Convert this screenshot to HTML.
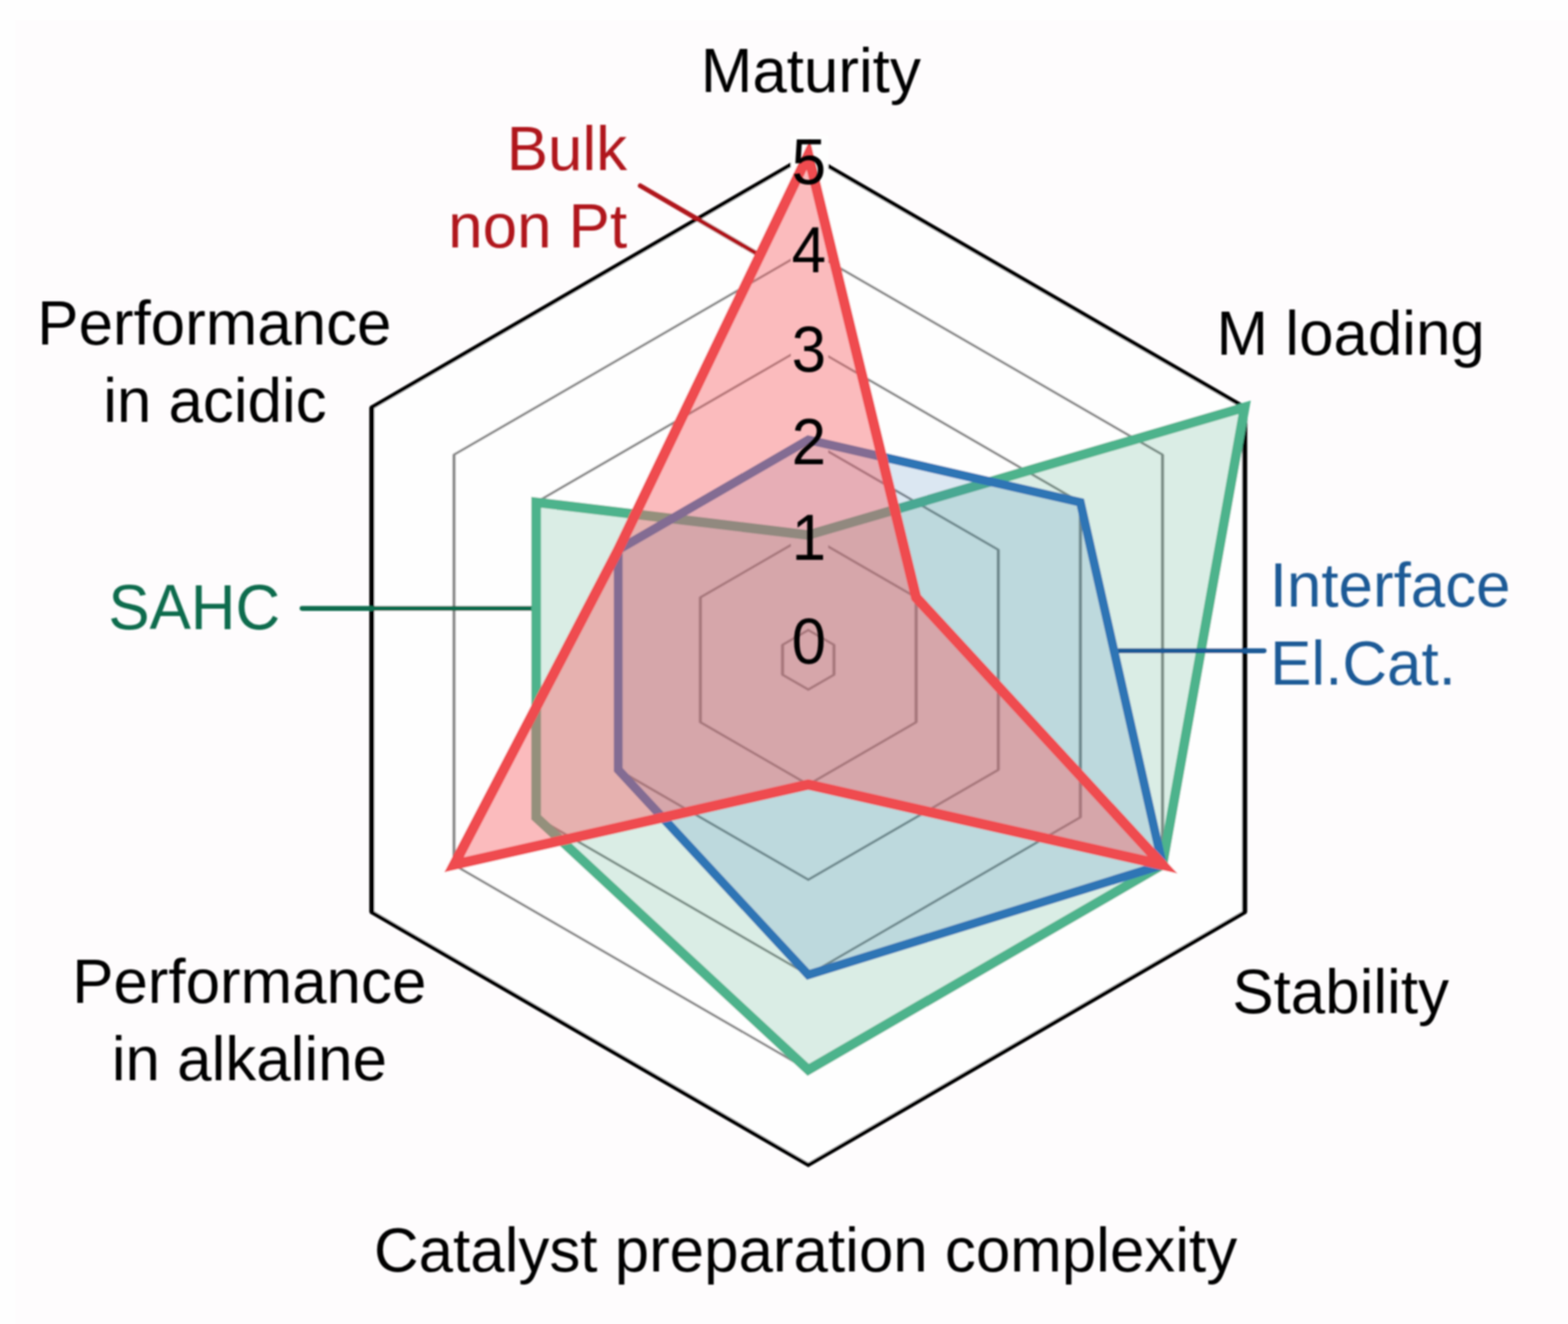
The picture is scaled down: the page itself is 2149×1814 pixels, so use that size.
<!DOCTYPE html>
<html lang="en"><head><meta charset="utf-8"><title>Radar chart</title>
<style>
html,body{margin:0;padding:0;background:#fefefe;}
body{width:2149px;height:1814px;overflow:hidden;}
svg{display:block;}
text{font-family:"Liberation Sans",sans-serif;font-size:84.8px;}
.mid{text-anchor:middle;}
.end{text-anchor:end;}
</style></head><body>
<svg width="2149" height="1814" viewBox="0 0 2149 1814">
<defs>
<filter id="soft" x="0" y="0" width="2149" height="1814" filterUnits="userSpaceOnUse"><feGaussianBlur stdDeviation="1.3"/></filter>
<filter id="tsoft" x="0" y="0" width="2149" height="1814" filterUnits="userSpaceOnUse"><feGaussianBlur stdDeviation="1.0"/></filter>
</defs>
<rect x="0" y="0" width="2149" height="1814" fill="#fefefe"/>
<rect x="21" y="28" width="2128" height="1786" fill="#fefcfd"/>
<g filter="url(#soft)">
<polygon points="1107.8,211.9 1705.9,558.0 1705.9,1250.0 1107.8,1596.1 509.6,1250.0 509.6,558.0" fill="#fefefe"/>
<g fill="none" stroke="#8a8a8a" stroke-width="3.4">
<polygon points="1107.8,863.2 1143.0,883.6 1143.0,924.4 1107.8,944.8 1072.5,924.4 1072.5,883.6"/>
<line x1="1143.0" y1="883.6" x2="1143.0" y2="924.4" stroke-width="4.4"/>
<line x1="1072.5" y1="924.4" x2="1072.5" y2="883.6" stroke-width="4.4"/>
<polygon points="1107.8,733.0 1255.6,818.5 1255.6,989.5 1107.8,1075.0 959.9,989.5 959.9,818.5"/>
<line x1="1255.6" y1="818.5" x2="1255.6" y2="989.5" stroke-width="4.4"/>
<line x1="959.9" y1="989.5" x2="959.9" y2="818.5" stroke-width="4.4"/>
<polygon points="1107.8,602.7 1368.2,753.3 1368.2,1054.7 1107.8,1205.3 847.3,1054.7 847.3,753.3"/>
<line x1="1368.2" y1="753.3" x2="1368.2" y2="1054.7" stroke-width="4.4"/>
<line x1="847.3" y1="1054.7" x2="847.3" y2="753.3" stroke-width="4.4"/>
<polygon points="1107.8,472.4 1480.7,688.2 1480.7,1119.8 1107.8,1335.6 734.8,1119.8 734.8,688.2"/>
<line x1="1480.7" y1="688.2" x2="1480.7" y2="1119.8" stroke-width="4.4"/>
<line x1="734.8" y1="1119.8" x2="734.8" y2="688.2" stroke-width="4.4"/>
<polygon points="1107.8,342.2 1593.3,623.1 1593.3,1184.9 1107.8,1465.8 622.2,1184.9 622.2,623.1"/>
<line x1="1593.3" y1="623.1" x2="1593.3" y2="1184.9" stroke-width="4.4"/>
<line x1="622.2" y1="1184.9" x2="622.2" y2="623.1" stroke-width="4.4"/>
</g>
<polygon points="1107.8,211.9 1705.9,558.0 1705.9,1250.0 1107.8,1596.1 509.6,1250.0 509.6,558.0" fill="none" stroke="#000000" stroke-width="5.6" stroke-linejoin="miter"/>
<line x1="1705.9" y1="558.0" x2="1705.9" y2="1250.0" stroke="#000000" stroke-width="6.9"/>
<line x1="509.6" y1="1250.0" x2="509.6" y2="558.0" stroke="#000000" stroke-width="6.9"/>
<rect x="1084" y="185.6" width="51" height="70" fill="#fefefe"/>
<rect x="1084" y="306.6" width="51" height="70" fill="#fefefe"/>
<rect x="1084" y="443.0" width="51" height="70" fill="#fefefe"/>
<rect x="1084" y="569.5" width="51" height="70" fill="#fefefe"/>
<rect x="1084" y="701.0" width="51" height="70" fill="#fefefe"/>
<polygon points="1107.8,733.0 1705.9,558.0 1593.3,1184.9 1107.8,1465.8 734.8,1119.8 734.8,688.2" fill="#3ea57b" fill-opacity="0.19" stroke="none"/>
<line x1="414" y1="833.6" x2="733" y2="833.6" stroke="#116c4d" stroke-width="6.6" stroke-linecap="round"/>
<polygon points="1107.8,733.0 1705.9,558.0 1593.3,1184.9 1107.8,1465.8 734.8,1119.8 734.8,688.2" fill="none" stroke="#4db38c" stroke-width="13.2" stroke-linejoin="miter" stroke-miterlimit="10"/>
<polygon points="1107.8,602.7 1480.7,688.2 1593.3,1184.9 1107.8,1335.6 847.3,1054.7 847.3,753.3" fill="#2f75b5" fill-opacity="0.17" stroke="none"/>
<line x1="1534" y1="891.6" x2="1732.5" y2="891.6" stroke="#1d5a96" stroke-width="6.6" stroke-linecap="round"/>
<polygon points="1107.8,602.7 1480.7,688.2 1593.3,1184.9 1107.8,1335.6 847.3,1054.7 847.3,753.3" fill="none" stroke="#2f75b5" stroke-width="12.0" stroke-linejoin="miter" stroke-miterlimit="10"/>
<polygon points="1107.8,211.9 1255.6,818.5 1593.3,1184.9 1107.8,1075.0 622.2,1184.9 847.3,753.3" fill="#f95f63" fill-opacity="0.42" stroke="none"/>
<line x1="877.5" y1="254.5" x2="1036.5" y2="347.0" stroke="#b0181e" stroke-width="6.6" stroke-linecap="round"/>
<polygon points="1107.8,211.9 1255.6,818.5 1593.3,1184.9 1107.8,1075.0 622.2,1184.9 847.3,753.3" fill="none" stroke="#ef4b50" stroke-width="14.0" stroke-linejoin="miter" stroke-miterlimit="10"/>
</g>
<g filter="url(#tsoft)">
<text class="mid" x="1111.3" y="125.5" fill="#000">Maturity</text>
<text class="end" x="859.5" y="232.5" fill="#b0181e">Bulk</text>
<text class="end" x="859.5" y="339" fill="#b0181e">non Pt</text>
<text class="mid" x="293.8" y="472" fill="#000">Performance</text>
<text class="mid" x="294.6" y="578.3" fill="#000">in acidic</text>
<text class="mid" x="1851.2" y="485.6" fill="#000">M loading</text>
<text class="mid" transform="translate(266.3 861.5) scale(1 1.03)" fill="#116c4d">SAHC</text>
<text x="1740.3" y="830.5" fill="#1d5a96">Interface</text>
<text x="1740.8" y="938" fill="#1d5a96">El.Cat.</text>
<text class="mid" x="1837.4" y="1388" fill="#000">Stability</text>
<text class="mid" x="341.6" y="1373.7" fill="#000">Performance</text>
<text class="mid" x="341.8" y="1480.2" fill="#000">in alkaline</text>
<text class="mid" x="1104.1" y="1742.3" fill="#000">Catalyst preparation complexity</text>
<text class="mid" transform="translate(1108.6 251.6) scale(1 1.045)" fill="#000">5</text>
<text class="mid" transform="translate(1108.6 372.6) scale(1 1.045)" fill="#000">4</text>
<text class="mid" transform="translate(1108.6 509.0) scale(1 1.045)" fill="#000">3</text>
<text class="mid" transform="translate(1108.6 635.5) scale(1 1.045)" fill="#000">2</text>
<text class="mid" transform="translate(1108.6 767.0) scale(1 1.045)" fill="#000">1</text>
<text class="mid" transform="translate(1108.6 908.6) scale(1 1.045)" fill="#000">0</text>
</g>
</svg>
</body></html>
